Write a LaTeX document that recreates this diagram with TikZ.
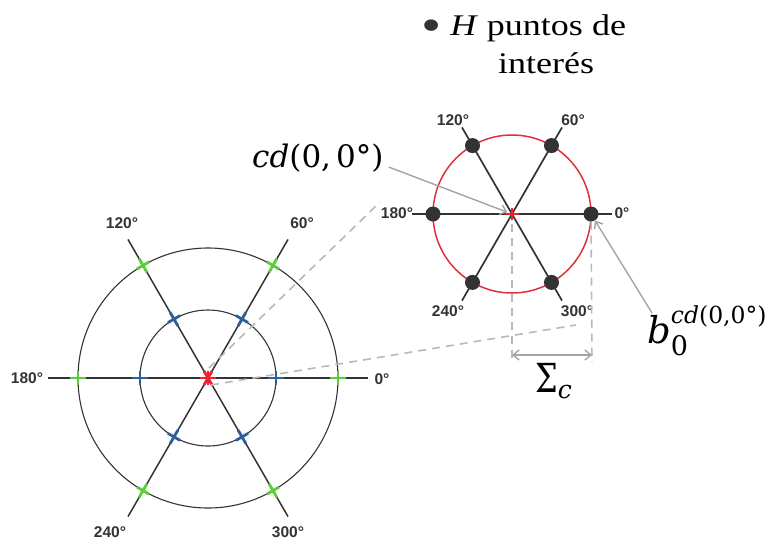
\documentclass[tikz,border=0pt]{standalone}
\usepackage{fontspec,tikz,graphicx}
\setsansfont{Liberation Sans}
\newfontfamily\titlefont[FakeStretch=1.2]{Liberation Serif}
\newfontfamily\mathlike{DejaVu Serif}
\usetikzlibrary{arrows.meta}

\definecolor{ink}{HTML}{333333}
\definecolor{ringred}{HTML}{E0303C}
\definecolor{tickgreen}{HTML}{5CCB3C}
\definecolor{tickblue}{HTML}{2F5F9A}
\definecolor{tickred}{HTML}{F02030}
\definecolor{dashgray}{HTML}{B8B8B8}
\definecolor{arrowgray}{HTML}{A4A4A4}

\tikzset{
  deg/.style={inner sep=0pt,font=\fontsize{15.5}{18}\selectfont\sffamily\bfseries,text=ink},
  ring/.style={draw=ink,line width=1.1pt},
  ray/.style={draw=ink,line width=1.5pt},
  tick/.style={line width=2.8pt},
  guide/.style={draw=dashgray,line width=1.6pt,dash pattern=on 8pt off 6pt},
  ptr/.style={draw=arrowgray,line width=1.4pt,-{Straight Barb[length=6pt,width=10pt]}},
  dimline/.style={draw=arrowgray,line width=1.4pt,{Straight Barb[length=6pt,width=10pt]}-{Straight Barb[length=6pt,width=10pt]}},
  dot/.style={circle,fill=ink,inner sep=0pt,minimum size=15pt},
}

\begin{document}
\begin{tikzpicture}[x=1pt,y=-1pt]
\path[use as bounding box] (0,0) rectangle (770.0,542.0);
% title
\node[anchor=base west,inner sep=0pt,font=\fontsize{30}{36}\titlefont] (title1) at (421,35) {\raisebox{-6pt}{\scalebox{1.6}{\color{ink}•}} \textit{H} puntos de};
\node[anchor=base west,inner sep=0pt,font=\fontsize{30}{36}\titlefont] (title2) at (498,73) {interés};

% left figure
\begin{scope}[shift={(208,378)},y=1pt]
\coordinate (L) at (0,0);
\draw[ring] (L) circle (130);
\draw[ring] (L) circle (68);
\foreach \a in {0,60,120} \draw[ray] (\a:160) -- (\a+180:160);
\foreach \a in {0,60,...,300} {
  \draw[tick,draw=tickgreen,rotate=\a] (122,0) -- (138,0) (130,-7) -- (130,7);
  \draw[tick,draw=tickblue,rotate=\a] (60,0) -- (76,0) (68,-7) -- (68,7);
  \draw[tick,draw=tickred,rotate=\a] (0,0) -- (8,0);
}
\draw[tick,draw=tickred] (0,-7) -- (0,7);
\end{scope}
\node[deg] (degL120) at (122,223) {120°};
\node[deg] (degL60) at (302,223) {60°};
\node[deg] (degL180) at (27,378) {180°};
\node[deg] (degL0) at (382,379) {0°};
\node[deg] (degL240) at (110,532) {240°};
\node[deg] (degL300) at (288,532) {300°};

% zoom guides
\coordinate (zt) at (209,368);
\coordinate (zb) at (211,385);
\coordinate (et) at (380,202);
\coordinate (eb) at (576,325);
\draw[guide] (zt) -- (et);
\draw[guide] (zb) -- (eb);

% right figure
\begin{scope}[shift={(512,214)},y=1pt]
\coordinate (R) at (0,0);
\draw[draw=ringred,line width=1.5pt] (R) circle (79);
\foreach \a in {0,60,120} \draw[ray,line width=1.7pt] (\a:100) -- (\a+180:100);
\foreach \a in {0,60,...,300} \node[dot] (p\a) at (\a:79) {};
\draw[tick,draw=tickred] (-7,0) -- (7,0) (0,-6) -- (0,6);
\end{scope}
\node[deg] (degR120) at (453,120) {120°};
\node[deg] (degR60) at (573,120) {60°};
\node[deg] (degR180) at (397,213) {180°};
\node[deg] (degR0) at (622,213) {0°};
\node[deg] (degR240) at (448,311) {240°};
\node[deg] (degR300) at (577,311) {300°};

% sigma dimension
\coordinate (sl) at (512,362);
\coordinate (sr) at (592,362);
\draw[guide] ([yshift=-10pt]R) -- (sl);
\draw[guide] ([yshift=-10pt]p0) -- (sr);
\draw[dimline] ([yshift=7pt]sl) -- ([yshift=7pt]sr);
\node[anchor=base west,inner sep=0pt,font=\mathlike] (sigma) at (535,392) {\scalebox{0.8}[1]{\fontsize{40}{44}\selectfont Σ}\raisebox{-6pt}{\fontsize{25}{28}\selectfont\itshape c}};

% pointers
\node[anchor=base west,inner sep=0pt,font=\fontsize{31}{36}\mathlike] (cdlbl) at (252,167) {\textit{cd}(0,\,0°)};
\node[anchor=base west,inner sep=0pt,font=\mathlike] (blbl) at (647,343) {{\fontsize{37}{40}\selectfont\itshape b}\rlap{\raisebox{-12pt}{\fontsize{27}{30}\selectfont 0}}\raisebox{20pt}{\fontsize{23.5}{28}\selectfont\textit{cd}(0,0°)}};
\draw[ptr,shorten >=5pt] ([shift={(5,-5)}]cdlbl.south east) -- (R);
\draw[ptr] ([shift={(5,8)}]blbl.north west) -- (p0);
\end{tikzpicture}
\end{document}
